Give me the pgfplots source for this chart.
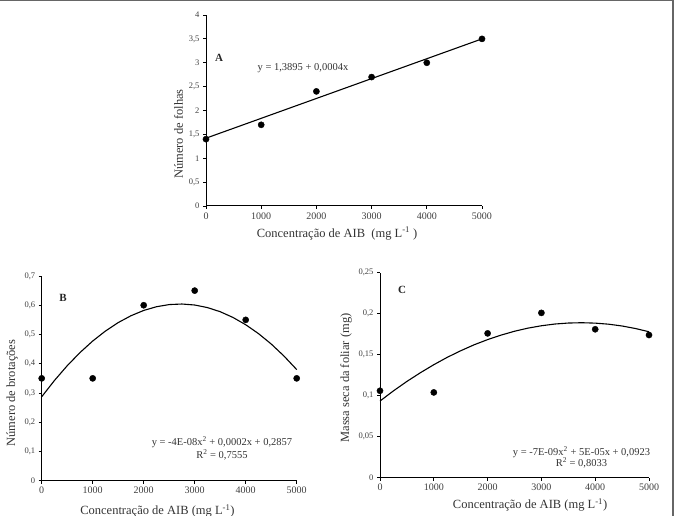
\documentclass[border=0pt]{standalone}
\usepackage{pgfplots}
\pgfplotsset{compat=1.18}
\usepackage{fontspec}
\setmainfont{Liberation Serif}
\tikzset{
  eqn/.style={font=\fontsize{10.5}{11}\selectfont, text=black!80},
  panlet/.style={font=\bfseries\fontsize{11}{12}\selectfont, text=black!85},
}
\begin{document}
\begin{tikzpicture}[x=1pt,y=1pt]
\useasboundingbox (0,0) rectangle (674,516);
\draw[gray!80!black,line width=1.5pt] (0,515.3) -- (673.2,515.3) -- (673.2,0);
\pgfplotsset{
  panel/.style={
    scale only axis,
    anchor=south west,
    axis x line*=bottom, axis y line*=left,
    axis line style={line width=1pt},
    tick style={black, line width=0.8pt},
    tick align=outside,
    major tick length=3pt,
    xmin=0, xmax=5000,
    xtick={0,1000,...,5000},
    xticklabel style={font=\fontsize{10}{10}\selectfont, text=black!75},
    yticklabel style={font=\fontsize{8.5}{9}\selectfont, text=black!75},
    /pgf/number format/assume math mode=true,
    /pgf/number format/use comma,
    /pgf/number format/1000 sep={},
    xlabel style={font=\fontsize{12.5}{13}\selectfont, text=black!80},
    ylabel style={font=\fontsize{12.5}{13}\selectfont, text=black!80},
    clip=false,
  },
  dots/.style={only marks, mark=*, mark size=3.1pt, black},
  fit/.style={black, line width=1.1pt, no marks},
}
% ---------- A
\begin{axis}[panel, at={(206pt,310pt)}, width=276pt, height=191pt,
  ymin=0, ymax=4, ytick={0,0.5,...,4},
  yticklabel style={/pgf/number format/fixed, /pgf/number format/precision=1},
  xlabel={Concentração de AIB\ \ (mg L\textsuperscript{-1} )},
  ylabel={Número de folhas},
  xlabel style={at={(ticklabel cs:0.475)}, yshift=-1pt},
  ylabel style={at={(ticklabel cs:0.377)}, yshift=-1pt}]
\addplot[fit] coordinates {(0,1.42) (5000,3.5)};
\addplot[dots] coordinates {(0,1.4) (1000,1.7) (2000,2.4) (3000,2.7) (4000,3.0) (5000,3.5)};
\node[panlet] at (axis cs:235,3.1) {A};
\node[eqn] at (axis cs:1757,2.89) {y = 1,3895 + 0,0004x};
\end{axis}
% ---------- B
\begin{axis}[panel, at={(41.7pt,35.3pt)}, width=255pt, height=204.7pt,
  ymin=0, ymax=0.7, ytick={0,0.1,...,0.7},
  yticklabel style={/pgf/number format/fixed, /pgf/number format/precision=1},
  xlabel={Concentração de AIB (mg L\textsuperscript{-1})},
  ylabel={Número de brotações},
  xlabel style={at={(ticklabel cs:0.454)}, yshift=-3.5pt},
  ylabel style={at={(ticklabel cs:0.428)}, yshift=0pt}]
\addplot[fit] coordinates {(0,0.287) (250,0.3427) (500,0.3931) (750,0.4380) (1000,0.4776) (1250,0.5118) (1500,0.5407) (1750,0.5641) (2000,0.5822) (2250,0.5949) (2500,0.6023) (2750,0.6042) (3000,0.6008) (3250,0.5920) (3500,0.5779) (3750,0.5583) (4000,0.5334) (4250,0.5031) (4500,0.4675) (4750,0.4264) (5000,0.380)};
\addplot[dots] coordinates {(0,0.35) (1000,0.35) (2000,0.6) (3000,0.65) (4000,0.55) (5000,0.35)};
\node[panlet] at (axis cs:418,0.625) {B};
\node[eqn] at (axis cs:3535,0.132) {y = -4E-08x\textsuperscript{2} + 0,0002x + 0,2857};
\node[eqn] at (axis cs:3535,0.088) {R\textsuperscript{2} = 0,7555};
\end{axis}
% ---------- C
\begin{axis}[panel, at={(380pt,38.3pt)}, width=269pt, height=205pt,
  ymin=0, ymax=0.25, ytick={0,0.05,...,0.25},
  yticklabel style={/pgf/number format/fixed, /pgf/number format/precision=2},
  xlabel={Concentração de AIB (mg L\textsuperscript{-1})},
  ylabel={Massa seca da foliar (mg)},
  xlabel style={at={(ticklabel cs:0.558)}, yshift=-1pt},
  ylabel style={at={(ticklabel cs:0.486)}, yshift=0pt}]
\addplot[fit] coordinates {(0,0.0935) (250,0.1059) (500,0.1174) (750,0.1280) (1000,0.1378) (1250,0.1468) (1500,0.1548) (1750,0.1621) (2000,0.1684) (2250,0.1739) (2500,0.1786) (2750,0.1824) (3000,0.1853) (3250,0.1874) (3500,0.1886) (3750,0.1890) (4000,0.1885) (4250,0.1872) (4500,0.1850) (4750,0.1819) (5000,0.1780)};
\addplot[dots] coordinates {(0,0.106) (1000,0.104) (2000,0.176) (3000,0.201) (4000,0.181) (5000,0.174)};
\node[panlet] at (axis cs:409,0.229) {C};
\node[eqn] at (axis cs:3745,0.0313) {y = -7E-09x\textsuperscript{2} + 5E-05x + 0,0923};
\node[eqn] at (axis cs:3745,0.018) {R\textsuperscript{2} = 0,8033};
\end{axis}
\end{tikzpicture}
\end{document}
